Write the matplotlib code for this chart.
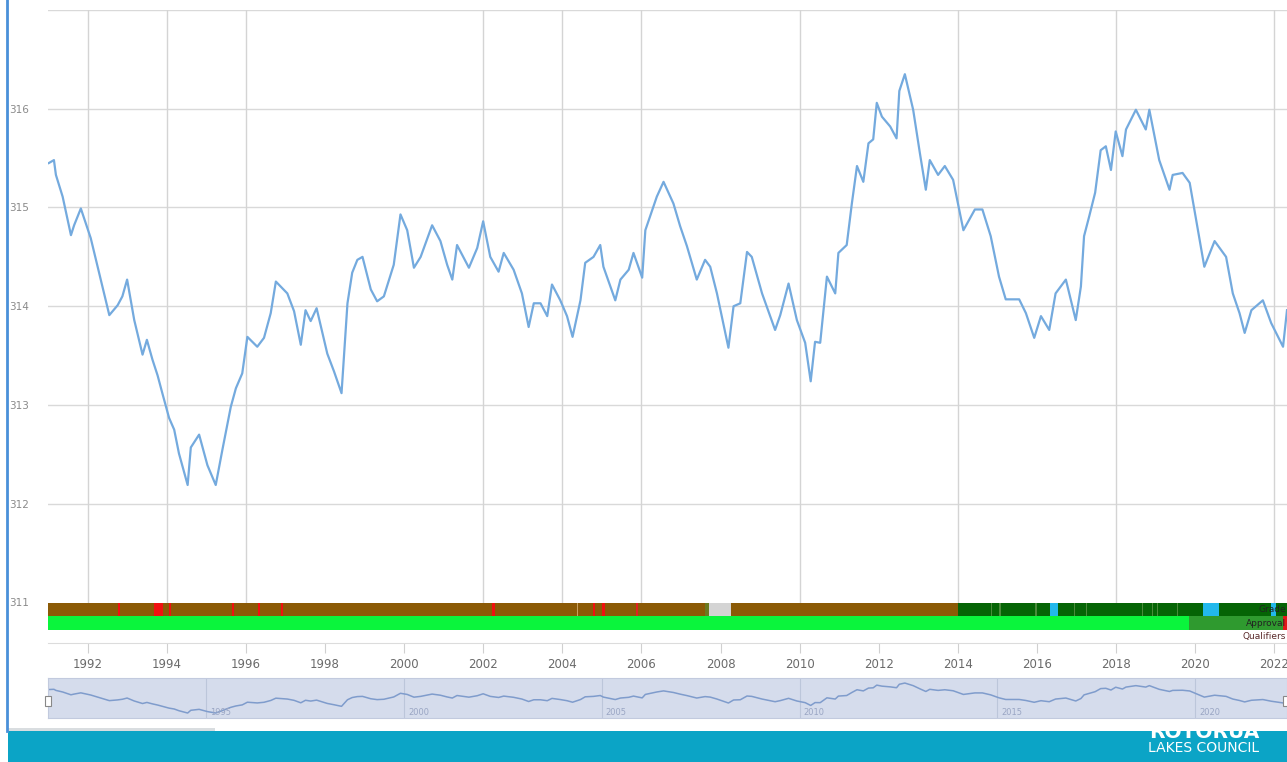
import numpy as np
import matplotlib
matplotlib.use("Agg")
import matplotlib.pyplot as plt
from matplotlib.patches import Rectangle

# lake level series
years = [1991.02, 1991.15, 1991.2, 1991.37, 1991.58, 1991.66, 1991.83, 1992.08, 1992.29, 1992.55,
         1992.76, 1992.88, 1993.0, 1993.18, 1993.39, 1993.5, 1993.64, 1993.77, 1993.89, 1994.06,
         1994.19, 1994.31, 1994.53, 1994.61, 1994.82, 1995.03, 1995.24, 1995.41, 1995.62, 1995.75,
         1995.91, 1996.04, 1996.29, 1996.46, 1996.63, 1996.76, 1997.05, 1997.22, 1997.39, 1997.51,
         1997.64, 1997.79, 1998.06, 1998.23, 1998.42, 1998.57, 1998.69, 1998.82, 1998.95, 1999.16,
         1999.32, 1999.49, 1999.74, 1999.91, 2000.08, 2000.25, 2000.42, 2000.71, 2000.92, 2001.09,
         2001.22, 2001.34, 2001.64, 2001.85, 2002.0, 2002.18, 2002.39, 2002.52, 2002.77, 2002.98,
         2003.15, 2003.28, 2003.45, 2003.62, 2003.74, 2003.95, 2004.12, 2004.26, 2004.46, 2004.58,
         2004.79, 2004.96, 2005.04, 2005.34, 2005.47, 2005.68, 2005.8, 2006.02, 2006.1, 2006.39,
         2006.56, 2006.81, 2006.98, 2007.15, 2007.4, 2007.61, 2007.74, 2007.91, 2008.2, 2008.33,
         2008.5, 2008.67, 2008.79, 2009.05, 2009.38, 2009.51, 2009.72, 2009.93, 2010.14, 2010.28,
         2010.39, 2010.52, 2010.69, 2010.9, 2010.98, 2011.19, 2011.32, 2011.45, 2011.61, 2011.74,
         2011.86, 2011.95, 2012.08, 2012.29, 2012.45, 2012.52, 2012.66, 2012.87, 2013.04, 2013.19,
         2013.29, 2013.5, 2013.67, 2013.88, 2014.14, 2014.43, 2014.62, 2014.83, 2015.04, 2015.21,
         2015.55, 2015.72, 2015.93, 2016.1, 2016.31, 2016.47, 2016.73, 2016.98, 2017.11, 2017.19,
         2017.32, 2017.47, 2017.61, 2017.74, 2017.87, 2017.99, 2018.16, 2018.25, 2018.5, 2018.75,
         2018.84, 2019.09, 2019.35, 2019.43, 2019.68, 2019.86, 2020.02, 2020.23, 2020.49, 2020.78,
         2020.95, 2021.12, 2021.25, 2021.42, 2021.71, 2021.92, 2022.22, 2022.32]
levels = [315.45, 315.48, 315.33, 315.11, 314.72, 314.82, 314.99, 314.69, 314.34, 313.91,
          314.01, 314.10, 314.27, 313.86, 313.51, 313.66, 313.46, 313.30, 313.12, 312.87,
          312.75, 312.51, 312.19, 312.57, 312.70, 312.39, 312.19, 312.55, 312.98, 313.17,
          313.32, 313.69, 313.59, 313.68, 313.93, 314.25, 314.13, 313.95, 313.61, 313.96,
          313.85, 313.98, 313.52, 313.34, 313.12, 314.03, 314.34, 314.47, 314.50, 314.17,
          314.05, 314.10, 314.42, 314.93, 314.77, 314.39, 314.50, 314.82, 314.66, 314.42,
          314.27, 314.62, 314.39, 314.59, 314.86, 314.50, 314.35, 314.54, 314.37, 314.13,
          313.79, 314.03, 314.03, 313.90, 314.22, 314.06, 313.90, 313.69, 314.06, 314.44,
          314.50, 314.62, 314.40, 314.06, 314.27, 314.37, 314.54, 314.29, 314.77, 315.11,
          315.26, 315.04, 314.81, 314.61, 314.27, 314.47, 314.40, 314.13, 313.58, 314.00,
          314.03, 314.55, 314.50, 314.13, 313.76, 313.91, 314.23, 313.86, 313.63, 313.24,
          313.64, 313.63, 314.30, 314.13, 314.54, 314.62, 315.04, 315.42, 315.26, 315.65,
          315.69, 316.06, 315.92, 315.82, 315.70, 316.18, 316.35, 315.99, 315.55, 315.18,
          315.48, 315.33, 315.42, 315.28, 314.77, 314.98, 314.98, 314.71, 314.30, 314.07,
          314.07, 313.93, 313.68, 313.90, 313.76, 314.13, 314.27, 313.86, 314.20, 314.71,
          314.91, 315.15, 315.58, 315.62, 315.38, 315.77, 315.52, 315.79, 315.99, 315.79,
          315.99, 315.48, 315.18, 315.33, 315.35, 315.25, 314.88, 314.40, 314.66, 314.50,
          314.13, 313.93, 313.73, 313.96, 314.06, 313.83, 313.59, 313.96]

y_ticks = [311, 312, 313, 314, 315, 316]
x_ticks = [1992, 1994, 1996, 1998, 2000, 2002, 2004, 2006, 2008, 2010, 2012, 2014, 2016, 2018, 2020, 2022]
grid_years = [1992, 1994, 1996, 2002, 2004, 2006, 2010, 2014, 2018, 2022]
nav_years = [1995, 2000, 2005, 2010, 2015, 2020]

# grade band: (start, end, colour)
grade_start = [1991.0, 2014.0, 2007.60, 2007.72, 1992.76, 1993.67, 1994.07, 1995.66, 1996.30, 1996.90,
               2002.22, 2004.36, 2004.77, 2005.00, 2005.87, 2016.34, 2020.19, 2021.92,
               2014.84, 2015.05, 2015.96, 2016.94, 2017.23, 2018.66, 2018.91, 2019.04, 2019.54]
grade_end = [2014.0, 2022.4, 2007.72, 2008.27, 1992.82, 1993.90, 1994.12, 1995.71, 1996.35, 1996.95,
             2002.30, 2004.40, 2004.82, 2005.07, 2005.92, 2016.54, 2020.61, 2022.05,
             2014.87, 2015.08, 2015.99, 2016.97, 2017.26, 2018.69, 2018.94, 2019.07, 2019.57]
grade_col = ['#8b5a06', '#056405', '#6b7a20', '#d4d4d4', '#f01010', '#f01010', '#f01010', '#f01010',
             '#f01010', '#f01010', '#f01010', '#c8a060', '#f01010', '#f01010', '#e02020',
             '#22b8ec', '#22b8ec', '#22b8ec',
             '#4a8a3a', '#4a8a3a', '#4a8a3a', '#4a8a3a', '#4a8a3a', '#4a8a3a', '#4a8a3a', '#4a8a3a', '#4a8a3a']

approval_start = [1991.0, 2019.84, 2022.22]
approval_end = [2019.84, 2022.22, 2022.4]
approval_col = ['#0af53c', '#2f9a2f', '#e01818']

W, H = 1287, 762
fig = plt.figure(figsize=(W / 100, H / 100), dpi=100)
fig.patch.set_facecolor('white')

def box(x0, y0, x1, y1):
    return [x0 / W, 1 - y1 / H, (x1 - x0) / W, (y1 - y0) / H]

x_lo, x_hi = 1991.0, 2022.32

# main chart
ax = fig.add_axes(box(48, 10, 1287, 602.5))
ax.plot(years, levels, color='#74aade', lw=1.6)
ax.set_xlim(x_lo, x_hi)
ax.set_ylim(311, 317)
ax.set_yticks(y_ticks)
ax.set_yticklabels([str(v) for v in y_ticks])
ax.tick_params(axis='y', length=0, pad=14, labelsize=7.5, labelcolor='#8a8a8a')
ax.set_xticks([])
for v in y_ticks[1:] + [317]:
    ax.axhline(v, color='#d9d9d9', lw=1, zorder=0)
for v in grid_years:
    ax.axvline(v, color='#d4d4d4', lw=1, zorder=0)
for s in ax.spines.values():
    s.set_visible(False)

# grade / approval / qualifier bands
bx = fig.add_axes(box(48, 603, 1287, 643))
bx.set_xlim(x_lo, x_hi)
bx.set_ylim(0, 40)
for s, e, c in zip(grade_start, grade_end, grade_col):
    bx.broken_barh([(s, e - s)], (27, 13), facecolors=c)
for s, e, c in zip(approval_start, approval_end, approval_col):
    bx.broken_barh([(s, e - s)], (13, 14), facecolors=c)
bx.text(x_hi - 0.02, 33.5, 'Grade', fontsize=6.5, color='#222222', va='center', ha='right')
bx.text(x_hi - 0.02, 20, 'Approval', fontsize=6.5, color='#222222', va='center', ha='right')
bx.text(x_hi - 0.02, 6.5, 'Qualifiers', fontsize=6.5, color='#5a2a2a', va='center', ha='right')
bx.set_yticks([])
bx.set_xticks(x_ticks)
bx.set_xticklabels([str(v) for v in x_ticks])
bx.tick_params(axis='x', length=7, color='#d0d0d0', labelsize=8.5, labelcolor='#6a6a6a', pad=4)
for k in ['top', 'left', 'right']:
    bx.spines[k].set_visible(False)
bx.spines['bottom'].set_color('#dcdcdc')

# navigator
nx = fig.add_axes(box(48, 678, 1287, 718))
nx.set_facecolor('#d5dcec')
nx.plot(years, levels, color='#7f9ccc', lw=1.1)
nx.set_xlim(x_lo, x_hi)
nx.set_ylim(311.5, 317.05)
for v in nav_years:
    nx.axvline(v, color='#bcc6da', lw=0.8, zorder=0)
    nx.text(v + 0.1, 311.7, str(v), fontsize=6, color='#9aa6c4', va='bottom', ha='left')
nx.set_xticks([])
nx.set_yticks([])
for s in nx.spines.values():
    s.set_color('#c2cade')
for hx in [1991.0, 2022.3]:
    nx.add_patch(Rectangle((hx - 0.08, 313.2), 0.16, 1.4, facecolor='white',
                           edgecolor='#888888', lw=0.8, clip_on=False, zorder=5))

# footer band with logo text
fx = fig.add_axes(box(8, 731, 1287, 762))
fx.set_facecolor('#0ba4c6')
fx.set_xlim(0, 1)
fx.set_ylim(0, 1)
fx.set_xticks([])
fx.set_yticks([])
for s in fx.spines.values():
    s.set_visible(False)
fx.text(0.8925, 0.66, 'ROTORUA', fontsize=14.5, fontweight='bold', color='white',
        va='bottom', ha='left', clip_on=True)
fx.text(0.8915, 0.45, 'LAKES COUNCIL', fontsize=10, color='white', va='center', ha='left')

# left border and scroll bar
fig.add_artist(plt.Line2D([7 / W, 7 / W], [1 - 731 / H, 1], color='#4a90d9', lw=2))
fig.add_artist(Rectangle((8 / W, 1 - 731 / H), 207 / W, 3 / H, facecolor='#d9dde0',
                         edgecolor='none', transform=fig.transFigure))

fig.savefig('out.png', dpi=100)
